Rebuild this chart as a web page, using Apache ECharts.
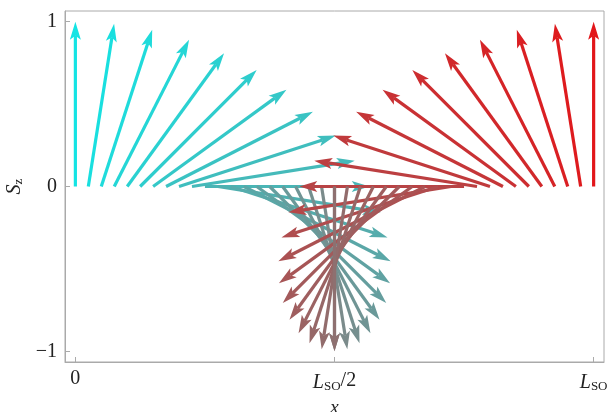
<!DOCTYPE html>
<html>
<head>
<meta charset="utf-8">
<script src="https://cdn.jsdelivr.net/npm/echarts@6/dist/echarts.min.js"></script>
<style>
  html, body { margin: 0; padding: 0; background: #fff; }
  #chart1 { width: 607px; height: 412px; }
</style>
</head>
<body>
<div id="chart1"></div>
<script>
// spin arrows: base position x (in units of L_SO) and rotation angle (deg, from +z)
const cyanX = [0, 0.025, 0.05, 0.075, 0.1, 0.125, 0.15, 0.175, 0.2, 0.225, 0.25,
               0.275, 0.3, 0.325, 0.35, 0.375, 0.4, 0.425, 0.45, 0.475, 0.5];
const cyanAngle = [0, 9, 18, 27, 36, 45, 54, 63, 72, 81, 90,
                   99, 108, 117, 126, 135, 144, 153, 162, 171, 180];
const redX = [1, 0.975, 0.95, 0.925, 0.9, 0.875, 0.85, 0.825, 0.8, 0.775, 0.75,
              0.725, 0.7, 0.675, 0.65, 0.625, 0.6, 0.575, 0.55, 0.525, 0.5];
const redAngle = [0, -9, -18, -27, -36, -45, -54, -63, -72, -81, -90,
                  -99, -108, -117, -126, -135, -144, -153, -162, -171, -180];

const xTickValues = [0, 0.5, 1];
const xTickLabels = ['0', '{i|L}{s|SO}/2', '{i|L}{s|SO}'];
const yTickValues = [-1, 0, 1];
const yTickLabels = ['\u22121', '0', '1'];

let chart1;
const serif = '"Liberation Serif", "DejaVu Serif", serif';

const mix = (a, b, t) => {
    const c = a.map((v, k) => Math.round(v + (b[k] - v) * t));
    return 'rgb(' + c.join(',') + ')';
};

const arrowSeries = (name, xs, angles, c0, c1) => {
    const n = xs.length - 1;
    return {
        name: name,
        type: 'custom',
        data: xs.map((x, i) => [x, angles[i]]),
        renderItem: function (params, api) {
            const base = api.coord([api.value(0), 0]);
            const unit = api.size([0, 1])[1];
            const a = api.value(1) * Math.PI / 180;
            const dx = Math.sin(a), dy = -Math.cos(a);
            const tip = [base[0] + unit * dx, base[1] + unit * dy];
            const hl = 18, hw = 5.5, notch = 14;
            const px = -dy, py = dx;
            const back = [tip[0] - dx * hl, tip[1] - dy * hl];
            const nb = [tip[0] - dx * notch, tip[1] - dy * notch];
            const color = mix(c0, c1, params.dataIndex / n);
            return {
                type: 'group',
                children: [
                    {
                        type: 'line',
                        shape: { x1: base[0], y1: base[1], x2: nb[0], y2: nb[1] },
                        style: { stroke: color, lineWidth: 3.2 }
                    },
                    {
                        type: 'polygon',
                        shape: { points: [tip, [back[0] + px * hw, back[1] + py * hw], nb,
                                          [back[0] - px * hw, back[1] - py * hw]] },
                        style: { fill: color }
                    }
                ]
            };
        }
    };
};

const getOptionChart1 = () => {
    const labelRich = {
        i: { fontFamily: serif, fontStyle: 'italic', fontSize: 20, color: '#222', lineHeight: 24, verticalAlign: 'bottom' },
        s: { fontFamily: serif, fontSize: 13, color: '#222', lineHeight: 11, verticalAlign: 'bottom' }
    };
    return {
        animation: false,
        grid: {
            left: 65, right: 3, top: 11, bottom: 50,
            outerBoundsMode: 'none',
            show: true, borderColor: '#aaa', borderWidth: 1
        },
        xAxis: {
            type: 'value',
            min: -0.02,
            max: 1.02,
            name: 'x',
            nameLocation: 'middle',
            nameGap: 36,
            nameTextStyle: { fontFamily: serif, fontStyle: 'italic', fontSize: 19, color: '#222' },
            axisLine: { show: true, onZero: false, lineStyle: { color: '#aaa' } },
            axisTick: { inside: true, length: 5, customValues: xTickValues, lineStyle: { color: '#aaa' } },
            axisLabel: {
                customValues: xTickValues,
                margin: 7,
                fontFamily: serif,
                fontSize: 20,
                color: '#222',
                hideOverlap: false,
                formatter: v => xTickLabels[xTickValues.indexOf(v)],
                rich: labelRich
            },
            splitLine: { show: false }
        },
        yAxis: {
            type: 'value',
            min: -1.065,
            max: 1.065,
            name: '{i|S}{s|z}',
            nameLocation: 'middle',
            nameRotate: 90,
            nameGap: 34,
            nameTextStyle: { rich: labelRich },
            axisLine: { show: true, onZero: false, lineStyle: { color: '#aaa' } },
            axisTick: { inside: true, length: 5, customValues: yTickValues, lineStyle: { color: '#aaa' } },
            axisLabel: {
                customValues: yTickValues,
                margin: 8,
                fontFamily: serif,
                fontSize: 20,
                color: '#222',
                formatter: v => yTickLabels[yTickValues.indexOf(v)]
            },
            splitLine: { show: false }
        },
        series: [
            arrowSeries('cyan', cyanX, cyanAngle, [20, 228, 228], [128, 134, 134]),
            arrowSeries('red', redX, redAngle, [226, 22, 26], [142, 112, 112])
        ]
    };
};

const initCharts = () => {
    chart1 = echarts.init(document.getElementById('chart1'));
    chart1.setOption(getOptionChart1());
};
document.addEventListener('DOMContentLoaded', function () {
    initCharts();
});

window.addEventListener('resize', function () {
    chart1.resize();
});
</script>
</body>
</html>
